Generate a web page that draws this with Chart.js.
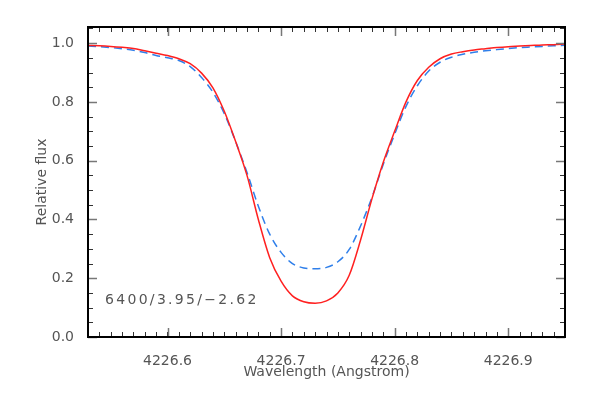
<!DOCTYPE html>
<html>
<head>
<meta charset="utf-8">
<script src="https://cdn.jsdelivr.net/npm/chart.js@4.4.1/dist/chart.umd.min.js"></script>
<style>
  body { margin: 0; background: #fff; }
</style>
</head>
<body>
<canvas id="fluxChart" width="591" height="393"></canvas>
<script>
// wavelength grid (Angstrom)
const wavelengths = [
    4226.53, 4226.54, 4226.55, 4226.56, 4226.57, 4226.58, 4226.59, 4226.60,
    4226.61, 4226.62, 4226.63, 4226.64, 4226.65, 4226.66, 4226.67, 4226.68,
    4226.69, 4226.70, 4226.71, 4226.72, 4226.73, 4226.74, 4226.75, 4226.76,
    4226.77, 4226.78, 4226.79, 4226.80, 4226.81, 4226.82, 4226.83, 4226.84,
    4226.85, 4226.86, 4226.87, 4226.88, 4226.89, 4226.90, 4226.91, 4226.92,
    4226.93, 4226.94, 4226.95,
];

// red solid profile
const fluxRed = [
    0.992, 0.991, 0.989, 0.986, 0.982, 0.974, 0.966, 0.958,
    0.947, 0.930, 0.898, 0.848, 0.768, 0.665, 0.550, 0.400,
    0.270, 0.190, 0.140, 0.120, 0.115, 0.123, 0.150, 0.210,
    0.330, 0.470, 0.595, 0.700, 0.800, 0.873, 0.918, 0.947,
    0.963, 0.971, 0.977, 0.981, 0.985, 0.988, 0.990, 0.992,
    0.994, 0.995, 0.997,
];

// blue dashed profile
const fluxBlue = [
    0.990, 0.988, 0.985, 0.981, 0.976, 0.968, 0.958, 0.950,
    0.941, 0.920, 0.883, 0.833, 0.760, 0.665, 0.560, 0.445,
    0.350, 0.288, 0.250, 0.235, 0.232, 0.237, 0.256, 0.298,
    0.378, 0.475, 0.588, 0.690, 0.785, 0.855, 0.905, 0.935,
    0.952, 0.962, 0.969, 0.974, 0.978, 0.982, 0.985, 0.987,
    0.989, 0.991, 0.993,
];

const xTicks = [4226.6, 4226.7, 4226.8, 4226.9];
const yTicks = [0.0, 0.2, 0.4, 0.6, 0.8, 1.0];
const modelLabel = "6400/3.95/\u22122.62";

const xMin = 4226.53, xMax = 4226.95;
const yMin = 0, yMax = 1.055;

const textFont = { family: "DejaVu Sans", size: 14 };
const textColor = "#555";

// frame + inward ticks, IDL style
const frameTicks = {
    id: "frameTicks",
    afterDatasetsDraw(chart) {
        const { ctx, chartArea: a, scales: { x, y } } = chart;
        ctx.save();

        // minor ticks
        ctx.strokeStyle = "#333";
        ctx.lineWidth = 1;
        ctx.beginPath();
        for (let k = 1; k < 42; k++) {
            const px = Math.round(x.getPixelForValue(xMin + k * 0.01)) + 0.5;
            ctx.moveTo(px, a.bottom); ctx.lineTo(px, a.bottom - 5);
            ctx.moveTo(px, a.top); ctx.lineTo(px, a.top + 5);
        }
        for (let k = 1; k <= 21; k++) {
            const py = Math.round(y.getPixelForValue(k * 0.05)) + 0.5;
            ctx.moveTo(a.left, py); ctx.lineTo(a.left + 5, py);
            ctx.moveTo(a.right, py); ctx.lineTo(a.right - 5, py);
        }
        ctx.stroke();

        // major ticks
        ctx.strokeStyle = "#777";
        ctx.lineWidth = 1.5;
        ctx.beginPath();
        xTicks.forEach(v => {
            const px = Math.round(x.getPixelForValue(v)) + 0.5;
            ctx.moveTo(px, a.bottom); ctx.lineTo(px, a.bottom - 9);
            ctx.moveTo(px, a.top); ctx.lineTo(px, a.top + 9);
        });
        yTicks.forEach(v => {
            const py = Math.round(y.getPixelForValue(v)) + 0.5;
            ctx.moveTo(a.left, py); ctx.lineTo(a.left + 9, py);
            ctx.moveTo(a.right, py); ctx.lineTo(a.right - 9, py);
        });
        ctx.stroke();

        // frame
        ctx.strokeStyle = "#000";
        ctx.lineWidth = 2;
        ctx.strokeRect(a.left, a.top, a.right - a.left, a.bottom - a.top);

        // model parameters
        ctx.font = "14px 'DejaVu Sans'";
        ctx.letterSpacing = "2.3px";
        ctx.fillStyle = textColor;
        ctx.textBaseline = "middle";
        ctx.textAlign = "left";
        ctx.fillText(modelLabel, x.getPixelForValue(4226.545), y.getPixelForValue(0.126));
        ctx.restore();
    },
};

const ctx = document.getElementById("fluxChart").getContext("2d");
new Chart(ctx, {
    type: "line",
    data: {
        labels: wavelengths,
        datasets: [
            {
                data: wavelengths.map((w, i) => ({ x: w, y: fluxRed[i] })),
                borderColor: "#ff2020",
                borderWidth: 1.5,
                pointRadius: 0,
                cubicInterpolationMode: "monotone",
            },
            {
                data: wavelengths.map((w, i) => ({ x: w, y: fluxBlue[i] })),
                borderColor: "#2f7fea",
                borderWidth: 1.5,
                borderDash: [8, 5],
                pointRadius: 0,
                cubicInterpolationMode: "monotone",
            },
        ],
    },
    options: {
        responsive: false,
        animation: false,
        layout: { padding: { top: 27, right: 26, left: 0, bottom: 0 } },
        plugins: { legend: { display: false }, tooltip: { enabled: false } },
        scales: {
            x: {
                type: "linear",
                min: xMin,
                max: xMax,
                afterBuildTicks: s => { s.ticks = xTicks.map(v => ({ value: v })); },
                afterFit: s => { s.height = 56; },
                grid: { display: false },
                border: { display: false },
                ticks: {
                    callback: v => v.toFixed(1),
                    font: textFont,
                    color: textColor,
                    padding: 8,
                    maxRotation: 0,
                    autoSkip: false,
                },
                title: {
                    display: true,
                    text: "Wavelength (Angstrom)",
                    font: textFont,
                    color: textColor,
                    padding: { top: 0, bottom: 12 },
                },
            },
            y: {
                min: yMin,
                max: yMax,
                afterBuildTicks: s => { s.ticks = yTicks.map(v => ({ value: v })); },
                afterFit: s => { s.width = 88; },
                grid: { display: false },
                border: { display: false },
                ticks: {
                    callback: v => v.toFixed(1),
                    font: textFont,
                    color: textColor,
                    padding: 6,
                    autoSkip: false,
                },
                title: {
                    display: true,
                    text: "Relative flux",
                    font: textFont,
                    color: textColor,
                    padding: { top: 34, bottom: 0 },
                },
            },
        },
    },
    plugins: [frameTicks],
});
</script>
</body>
</html>
